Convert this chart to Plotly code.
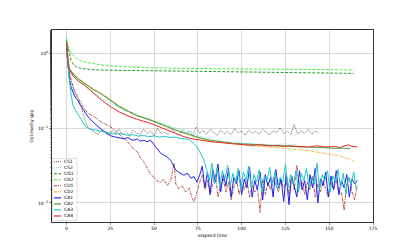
import plotly.graph_objects as go

# ---------------- data ----------------
cs1_x = [0, 0.5, 1, 2, 3, 4.5, 6, 8.3, 10, 12, 14,
         16, 18, 20, 22, 24, 26, 28, 30, 32, 34, 36, 38, 40, 42, 44, 46, 48, 50, 52, 54,
         56, 58, 60, 62, 64, 66, 68, 70, 72, 74, 76, 78, 80, 82, 84, 86, 88, 90, 92, 94,
         96, 98, 100, 102, 104, 106, 108, 110, 112, 114, 116, 118, 120, 122, 124, 126, 128, 130, 132, 134,
         136, 138, 140, 142, 144]
cs1_y = [1.2, 0.9, 0.65, 0.5, 0.4, 0.3, 0.25, 0.2, 0.14, 0.104, 0.095,
         0.089, 0.082, 0.095, 0.087, 0.079, 0.093, 0.084, 0.098, 0.081, 0.09, 0.078, 0.094, 0.086, 0.08, 0.097, 0.085,
         0.092, 0.079, 0.1, 0.084, 0.089, 0.082, 0.096, 0.087, 0.081, 0.094, 0.085, 0.091, 0.079, 0.104,
         0.086, 0.093, 0.083, 0.097, 0.088, 0.08, 0.095, 0.084, 0.09, 0.082, 0.099, 0.086, 0.092, 0.08,
         0.094, 0.085, 0.09, 0.083, 0.096, 0.088, 0.081, 0.093, 0.087, 0.101, 0.084, 0.09, 0.082, 0.112,
         0.083, 0.093, 0.085, 0.097, 0.083, 0.092, 0.087]

cs2_x = [0, 0.5, 1, 1.6, 2.6, 4, 5, 7, 10, 12, 15, 18, 20, 23, 25, 28, 30, 33, 35, 38, 40, 44, 48, 52, 55,
         60, 65, 70, 76, 81, 86, 90, 95, 100, 105, 110, 115, 120, 125, 128, 131]
cs2_y = [1.0, 0.85, 0.75, 0.64, 0.55, 0.5, 0.46, 0.42, 0.37, 0.35, 0.3, 0.27, 0.25, 0.23, 0.215, 0.2, 0.19, 0.178,
         0.17, 0.16, 0.15, 0.14, 0.13, 0.12, 0.115, 0.105, 0.097, 0.09, 0.078, 0.072, 0.068, 0.066, 0.064, 0.063,
         0.062, 0.061, 0.061, 0.06, 0.062, 0.06, 0.061]

cg1_x = [0, 0.8, 1.6, 2.6, 4, 6, 8.3, 12, 16, 25, 40, 60, 80, 100, 120, 140, 164]
cg1_y = [1.5, 1.25, 1.05, 0.8, 0.7, 0.65, 0.63, 0.61, 0.6, 0.595, 0.59, 0.58, 0.575, 0.565, 0.56, 0.55, 0.54]

cg2_x = [0, 0.5, 1.5, 3, 5, 8, 12, 16, 22, 30, 40, 50, 65, 80, 100, 120, 140, 164]
cg2_y = [1.62, 1.35, 1.12, 0.98, 0.88, 0.8, 0.75, 0.72, 0.69, 0.665, 0.65, 0.64, 0.63, 0.625, 0.615, 0.61,
         0.605, 0.6]

cd1_x = [0, 0.5, 1, 2, 3, 4.5, 6, 7.3, 9, 11, 13, 15.8, 18, 20, 22.5, 25.3, 28, 31, 33, 34.9, 36.7, 38.5,
         40.5, 42.4, 44, 46, 48.1, 50, 51.9, 53.8, 55.5, 57.5, 59.5, 61.4, 62.4, 64, 66, 68, 70, 71.5, 72.8,
         74.5, 76, 77.5, 79, 80.5, 82, 83.5, 85, 86.5, 88, 89.5, 91, 92.5, 94, 95.5, 97, 98.5, 100, 101.5,
         103, 104.5, 106, 107.5, 109, 110.5, 112, 113.5, 115, 116.5, 118, 119.5, 121, 122.5, 124, 125.5,
         127, 128.5, 130, 131.5, 133, 134.5, 136, 137.5, 139, 140.5, 142, 143.5, 145, 146.5, 148, 149.5,
         151, 152.5, 154, 155.5, 157, 158.5, 160, 161.5, 163, 164.5, 166]
cd1_y = [1.2, 0.9, 0.65, 0.5, 0.4, 0.32, 0.27, 0.237, 0.2, 0.17, 0.155, 0.142, 0.13, 0.12, 0.112, 0.104,
         0.092, 0.08, 0.072, 0.066, 0.058, 0.052, 0.048, 0.039, 0.036, 0.03, 0.024, 0.022, 0.0195, 0.019,
         0.021, 0.017, 0.02, 0.034, 0.018, 0.0155, 0.017, 0.014, 0.016, 0.012, 0.0104,
         0.014, 0.019, 0.0235, 0.015, 0.02, 0.013, 0.018, 0.024, 0.012, 0.017, 0.021, 0.014, 0.019, 0.011,
         0.016, 0.022, 0.013, 0.018, 0.015, 0.02, 0.012, 0.017, 0.014, 0.016, 0.0075, 0.021, 0.013, 0.019,
         0.015, 0.022, 0.018, 0.014, 0.02, 0.016, 0.019, 0.013, 0.023, 0.015, 0.032, 0.016, 0.02, 0.013,
         0.019, 0.015, 0.023, 0.012, 0.018, 0.014, 0.02, 0.016, 0.012, 0.019, 0.015, 0.021, 0.013,
         0.014, 0.008, 0.018, 0.022, 0.014, 0.011, 0.017]

cd2_x = [0, 0.5, 1, 1.6, 2.6, 4, 6.4, 10, 15, 20, 25, 30, 35, 40, 48, 56, 62, 67, 72, 76.6, 82, 88, 95,
         100, 105, 110, 116, 120, 124, 128, 133, 138, 143, 148, 152, 155, 158, 161, 164]
cd2_y = [1.4, 1.0, 0.75, 0.63, 0.58, 0.53, 0.47, 0.41, 0.34, 0.29, 0.24, 0.2, 0.172, 0.15, 0.13, 0.108,
         0.095, 0.086, 0.078, 0.072, 0.067, 0.064, 0.062, 0.06, 0.058, 0.057, 0.056, 0.055, 0.054, 0.052,
         0.051, 0.05, 0.048, 0.046, 0.044, 0.043, 0.041, 0.039, 0.036]

ca1_x = [0, 0.5, 1, 1.6, 2.5, 3.5, 4.5, 5.5, 6.4, 8, 9.5, 11, 13, 15.8, 18, 20, 22.5, 25.3, 28, 31, 33,
         35, 37, 38.6, 40.5, 42, 44.3, 46, 48, 50, 51.9, 53.8, 55.5, 57.6, 59.5, 61, 62.4, 63.8, 65.5, 67,
         69, 71, 72.8, 74.5,
         76, 77.5, 79, 80.5, 82, 83.5, 85, 86.5, 88, 89.5, 91, 92.5, 94, 95.5, 97, 98.5, 100, 101.5, 103,
         104.5, 106, 107.5, 109, 110.5, 112, 113.5, 115, 116.5, 118, 119.5, 121, 122.5, 124, 125.5, 127,
         128.5, 130, 131.5, 133, 134.5, 136, 137.5, 139, 140.5, 142, 143.5, 145, 146.5, 148, 149.5, 151,
         152.5, 154, 155.5, 157, 158.5, 160, 161.5, 163, 164.5, 166]
ca1_y = [1.18, 0.85, 0.6, 0.46, 0.36, 0.3, 0.27, 0.25, 0.237, 0.2, 0.175, 0.157, 0.135, 0.116, 0.105,
         0.096, 0.088, 0.079, 0.076, 0.074, 0.072, 0.075, 0.07, 0.069, 0.072, 0.067, 0.069, 0.066, 0.069,
         0.06, 0.052, 0.046, 0.044, 0.041, 0.037, 0.031, 0.0275, 0.026, 0.0245, 0.0235, 0.025, 0.0215,
         0.0225, 0.019,
         0.0235, 0.031, 0.016, 0.026, 0.013, 0.028, 0.019, 0.033, 0.014, 0.024, 0.017, 0.029, 0.012, 0.022,
         0.018, 0.027, 0.013, 0.021, 0.016, 0.03, 0.012, 0.02, 0.015, 0.026, 0.011, 0.024, 0.017, 0.022,
         0.012, 0.028, 0.016, 0.021, 0.0105, 0.025, 0.0095, 0.023, 0.017, 0.012, 0.027, 0.015, 0.02, 0.011,
         0.024, 0.016, 0.029, 0.01, 0.021, 0.017, 0.026, 0.012, 0.023, 0.015, 0.027, 0.013, 0.02, 0.016,
         0.024, 0.012, 0.021, 0.018, 0.02]

ca2_x = [0, 0.5, 1, 1.6, 2.6, 4, 6.4, 10, 15, 20, 25, 30, 35, 40, 48, 56, 62, 67, 72, 76.6, 82, 88, 95,
         100, 105, 110, 116, 120, 124, 128, 133, 138, 143, 148, 153, 158, 162]
ca2_y = [1.45, 1.0, 0.75, 0.62, 0.57, 0.52, 0.46, 0.4, 0.33, 0.285, 0.235, 0.195, 0.168, 0.148, 0.128,
         0.107, 0.095, 0.087, 0.079, 0.074, 0.069, 0.066, 0.063, 0.062, 0.061, 0.059, 0.059, 0.058, 0.058,
         0.057, 0.056, 0.056, 0.055, 0.055, 0.054, 0.054, 0.053]

ca3_x = [0, 0.5, 1, 1.6, 2.5, 3.5, 5, 6.4, 8.5, 11, 13, 15.8, 19, 22, 25, 28, 31, 35, 38, 41, 44, 47, 50,
         53, 56, 59, 62, 65, 68, 70, 71.5, 72.8, 74.2, 75.6, 77, 78.5,
         80, 81.5, 83, 84.5, 86, 87.5, 89, 90.5, 92, 93.5, 95, 96.5, 98, 99.5, 101, 102.5, 104, 105.5, 107,
         108.5, 110, 111.5, 113, 114.5, 116, 117.5, 119, 120.5, 122, 123.5, 125, 126.5, 128, 129.5, 131,
         132.5, 134, 135.5, 137, 138.5, 140, 141.5, 143, 144.5, 146, 147.5, 149, 150.5, 152, 153.5, 155,
         156.5, 158, 159.5, 161, 162.5, 164, 165.5]
ca3_y = [1.1, 0.8, 0.6, 0.45, 0.3, 0.21, 0.175, 0.157, 0.13, 0.104, 0.098, 0.095, 0.092, 0.089, 0.087,
         0.083, 0.085, 0.08, 0.082, 0.078, 0.08, 0.077, 0.079, 0.076, 0.078, 0.075, 0.076, 0.073, 0.072,
         0.07, 0.066, 0.062, 0.057, 0.051, 0.044, 0.037,
         0.028, 0.02, 0.034, 0.018, 0.03, 0.016, 0.027, 0.021, 0.032, 0.017, 0.025, 0.019, 0.029, 0.015,
         0.026, 0.02, 0.031, 0.016, 0.024, 0.019, 0.028, 0.014, 0.023, 0.02, 0.03, 0.017, 0.026, 0.015,
         0.022, 0.019, 0.033, 0.016, 0.024, 0.018, 0.027, 0.014, 0.025, 0.02, 0.029, 0.016, 0.022, 0.018,
         0.034, 0.015, 0.024, 0.02, 0.027, 0.014, 0.023, 0.019, 0.028, 0.016, 0.025, 0.013, 0.022, 0.018,
         0.026, 0.015]

ca4_x = [0, 0.5, 1, 1.6, 2.6, 4, 6.4, 10, 15, 20, 25, 30, 35, 40, 48, 56, 62, 67, 72, 76.6, 82, 88, 95,
         100, 105, 110, 116, 120, 124, 128, 133, 138, 143, 148, 153, 156, 159, 161, 163, 166]
ca4_y = [1.4, 0.95, 0.7, 0.6, 0.54, 0.49, 0.43, 0.38, 0.3, 0.237, 0.195, 0.165, 0.146, 0.132, 0.116,
         0.097, 0.085, 0.077, 0.072, 0.069, 0.066, 0.064, 0.062, 0.061, 0.059, 0.06, 0.058, 0.059, 0.057,
         0.058, 0.057, 0.056, 0.058, 0.056, 0.057, 0.055, 0.058, 0.06, 0.057, 0.056]

x_ticks = [0, 25, 50, 75, 100, 125, 150, 175]
y_tickvals = [1, 0.1, 0.01]
y_ticktext = ["10<sup>0</sup>", "10<sup>−1</sup>", "10<sup>−2</sup>"]

# ---------------- figure ----------------
DOT = "1px,1px"
DASH = "3px,1.5px"
DASHDOT = "3px,1px,1px,1px"
series = [
    ("CS1", cs1_x, cs1_y, "#5a5a5a", DOT, 0.9),
    ("CS2", cs2_x, cs2_y, "#6fdcdc", DOT, 0.9),
    ("CG1", cg1_x, cg1_y, "#1a8c1a", DASH, 0.9),
    ("CG2", cg2_x, cg2_y, "#33ee33", DASH, 0.9),
    ("CD1", cd1_x, cd1_y, "#b03a3a", DASHDOT, 0.9),
    ("CD2", cd2_x, cd2_y, "#ffaa22", DASHDOT, 0.9),
    ("CA1", ca1_x, ca1_y, "#2222ee", "solid", 1.0),
    ("CA2", ca2_x, ca2_y, "rgba(40,150,40,0.85)", "solid", 1.1),
    ("CA3", ca3_x, ca3_y, "#22c8c8", "solid", 1.0),
    ("CA4", ca4_x, ca4_y, "#ee2a2a", "solid", 1.0),
]

fig = go.Figure()
for name, xs, ys, col, dash, w in series:
    n = min(len(xs), len(ys))
    fig.add_trace(go.Scatter(x=xs[:n], y=ys[:n], mode="lines", name=name, showlegend=False,
                             line=dict(color=col, dash=dash, width=w)))

# hand-built compact legend (matplotlib style), in paper coordinates
L, R, T, B = 52.0, 373.0, 30.0, 222.0
def px(xp):
    return (xp - L) / (R - L)
def py(yp):
    return (B - yp) / (B - T)

shapes = [dict(type="rect", xref="paper", yref="paper", x0=px(52.6), x1=px(77), y0=py(220.5), y1=py(158.5),
               line=dict(color="#cccccc", width=0.6), fillcolor="rgba(255,255,255,0.85)", layer="above")]
annotations = []
for i, (name, xs, ys, col, dash, w) in enumerate(series):
    yy = 161.7 + 6.03 * i
    shapes.append(dict(type="line", xref="paper", yref="paper", x0=px(54), x1=px(61), y0=py(yy), y1=py(yy),
                       line=dict(color=col, dash=dash, width=w + 0.2), layer="above"))
    annotations.append(dict(xref="paper", yref="paper", x=px(62.3), y=py(yy), text=name, showarrow=False,
                            xanchor="left", yanchor="middle", font=dict(size=4.5, color="black")))

fig.update_layout(
    width=415, height=249,
    margin=dict(l=52, r=42, t=30, b=27),
    paper_bgcolor="white", plot_bgcolor="white",
    font=dict(family="DejaVu Sans", size=5, color="black"),
    showlegend=False,
    shapes=shapes, annotations=annotations,
)
fig.update_xaxes(range=[-8.3, 175], tickvals=x_ticks, ticks="outside", ticklen=2, tickwidth=0.6,
                 showgrid=True, gridcolor="#d0d0d0", gridwidth=0.8, zeroline=False,
                 showline=True, linecolor="black", linewidth=0.8, mirror=True,
                 title=dict(text="elapsed time", font=dict(size=4.5), standoff=3),
                 tickfont=dict(size=4.5), automargin=False)
fig.update_yaxes(type="log", range=[-2.254, 0.312], tickvals=y_tickvals, ticktext=y_ticktext,
                 ticks="outside", ticklen=2, tickwidth=0.6,
                 minor=dict(ticks="outside", ticklen=1.2, tickwidth=0.5, showgrid=False),
                 showgrid=True, gridcolor="#d0d0d0", gridwidth=0.8, zeroline=False,
                 showline=True, linecolor="black", linewidth=0.8, mirror=True,
                 title=dict(text="Optimality gap", font=dict(size=4.5), standoff=4),
                 tickfont=dict(size=4.5), automargin=False)

fig.write_html("out.html", config={"displayModeBar": False, "staticPlot": True},
               post_script="document.body.style.margin='0';document.body.style.padding='0';")
